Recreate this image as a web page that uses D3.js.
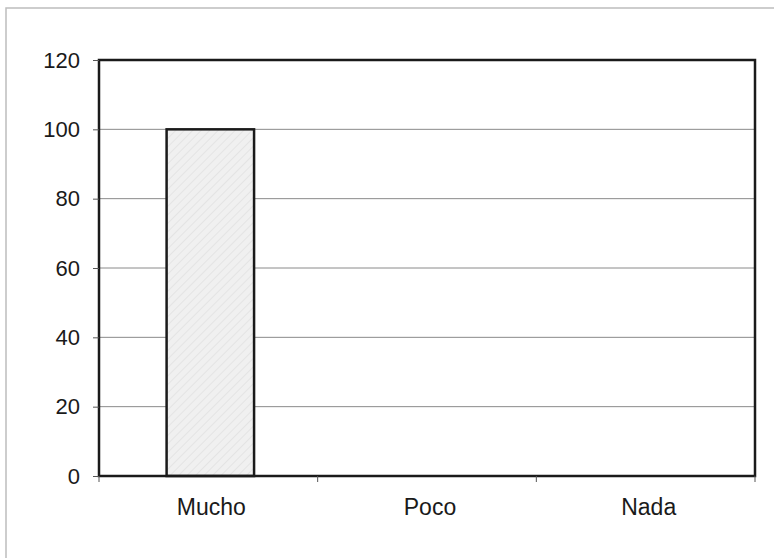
<!DOCTYPE html>
<html>
<head>
<meta charset="utf-8">
<script src="https://cdn.jsdelivr.net/npm/d3@7"></script>
<style>
  html, body { margin: 0; padding: 0; background: #fff; }
  svg { display: block; }
</style>
</head>
<body>
<svg id="chart" width="774" height="558"></svg>
<script>
const categories = ["Mucho", "Poco", "Nada"];
const values = [100, 0, 0];
const yTicks = [0, 20, 40, 60, 80, 100, 120];

const W = 774, H = 558;
const margin = { left: 99, right: 19, top: 60, bottom: 82 };
const svg = d3.select("#chart");

// outer light frame (only left/top visible in reference)
svg.append("rect")
  .attr("x", 6).attr("y", 8).attr("width", 900).attr("height", 900)
  .attr("fill", "#fff").attr("stroke", "#bdbdbd").attr("stroke-width", 1.5);

const defs = svg.append("defs");
const pat = defs.append("pattern")
  .attr("id", "hatch").attr("patternUnits", "userSpaceOnUse")
  .attr("width", 6).attr("height", 6)
  .attr("patternTransform", "rotate(45)");
pat.append("rect").attr("width", 6).attr("height", 6).attr("fill", "#f0f0f0");
pat.append("line").attr("x1", 0).attr("y1", 0).attr("x2", 0).attr("y2", 6)
  .attr("stroke", "#e4e4e4").attr("stroke-width", 2);

const x = d3.scaleBand().domain(categories)
  .range([margin.left, W - margin.right]).paddingInner(0).paddingOuter(0);
const y = d3.scaleLinear().domain([0, 120])
  .range([H - margin.bottom, margin.top]);

const font = "'Liberation Sans', Arial, sans-serif";

// gridlines
svg.append("g").selectAll("line").data(yTicks.filter(t => t > 0 && t < 120))
  .join("line")
  .attr("x1", margin.left).attr("x2", W - margin.right)
  .attr("y1", d => y(d)).attr("y2", d => y(d))
  .attr("stroke", "#8a8a8a").attr("stroke-width", 1);

// bars
const barW = x.bandwidth() * 0.4;
svg.append("g").selectAll("rect").data(categories.map((c, i) => ({ c, v: values[i] })).filter(d => d.v > 0))
  .join("rect")
  .attr("x", d => x(d.c) + x.bandwidth() / 2 - barW / 2 + 2)
  .attr("y", d => y(d.v))
  .attr("width", barW)
  .attr("height", d => y(0) - y(d.v))
  .attr("fill", "url(#hatch)")
  .attr("stroke", "#1a1a1a").attr("stroke-width", 2.5);

// plot border
svg.append("rect")
  .attr("x", margin.left).attr("y", margin.top)
  .attr("width", W - margin.left - margin.right)
  .attr("height", H - margin.top - margin.bottom)
  .attr("fill", "none").attr("stroke", "#1a1a1a").attr("stroke-width", 2.5);

// y axis
const yAxis = d3.axisLeft(y).tickValues(yTicks).tickSize(6).tickPadding(13);
const gy = svg.append("g").attr("transform", `translate(${margin.left},0)`).call(yAxis);
gy.select(".domain").remove();
gy.selectAll(".tick line").attr("stroke", "#555").attr("stroke-width", 1);
gy.selectAll(".tick text").attr("font-family", font).attr("font-size", 22).attr("fill", "#1a1a1a");

// x axis ticks at band boundaries
const boundaries = categories.map(c => x(c)).concat([x.range()[1]]);
svg.append("g").selectAll("line").data(boundaries).join("line")
  .attr("x1", d => d).attr("x2", d => d)
  .attr("y1", y(0)).attr("y2", y(0) + 6)
  .attr("stroke", "#555").attr("stroke-width", 1);

const xAxis = d3.axisBottom(x).tickSize(0).tickPadding(23);
const gx = svg.append("g").attr("transform", `translate(0,${y(0)})`).call(xAxis);
gx.select(".domain").remove();
gx.selectAll(".tick text").attr("font-family", font).attr("font-size", 23).attr("fill", "#1a1a1a")
  .attr("dx", 3);
</script>
</body>
</html>
